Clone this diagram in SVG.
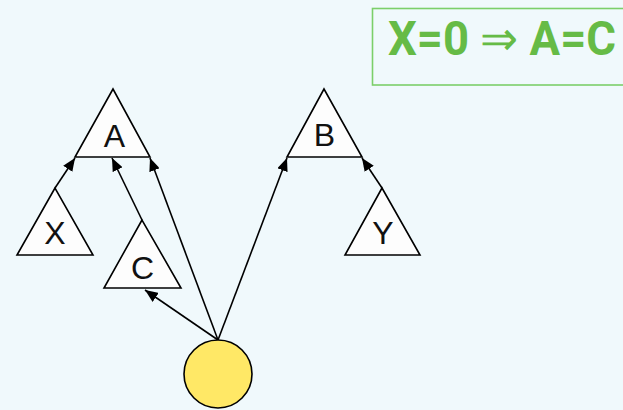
<svg xmlns="http://www.w3.org/2000/svg" width="623" height="410" viewBox="0 0 623 410">
<defs>
<marker id="ah" viewBox="0 0 13 11" refX="13" refY="5.5" markerWidth="13" markerHeight="11" markerUnits="userSpaceOnUse" orient="auto">
<path d="M0,0 L13,5.5 L0,11 z" fill="#000"/>
</marker>
</defs>
<style>
.tri{fill:#fdfdfd;stroke:#000;stroke-width:1.6;stroke-linejoin:miter}
.lbl{font-family:"Liberation Sans",Arial,sans-serif;font-size:32px;fill:#111;text-anchor:middle}
.edge{stroke:#000;stroke-width:1.6;fill:none;marker-end:url(#ah)}
</style>
<rect x="0" y="0" width="623" height="410" fill="#f0f9fc"/>
<g id="formula">
<rect x="372.5" y="8.5" width="270" height="76.5" fill="none" stroke="#7ccf6a" stroke-width="1.6"/>
<text x="388" y="55" font-family="Roboto,'Liberation Sans',sans-serif" font-weight="bold" font-size="48" fill="#66bb46" textLength="228" lengthAdjust="spacingAndGlyphs">X=0 <tspan font-weight="normal">⇒</tspan> A=C</text>
</g>
<g id="connectors">
<line class="edge" x1="55" y1="188" x2="75" y2="158"/>
<line class="edge" x1="142" y1="220" x2="112" y2="158"/>
<line class="edge" x1="218" y1="340" x2="150" y2="158"/>
<line class="edge" x1="218" y1="340" x2="145" y2="290"/>
<line class="edge" x1="218" y1="340" x2="287" y2="158"/>
<line class="edge" x1="382" y1="188" x2="362" y2="158"/>
</g>
<g id="nodeA">
<polygon class="tri" points="113,89 75,157 150,157"/>
<text class="lbl" x="114.5" y="146.5">A</text>
</g>
<g id="nodeX">
<polygon class="tri" points="55,188 17,255 93,255"/>
<text class="lbl" x="55" y="243.5">X</text>
</g>
<g id="nodeC">
<polygon class="tri" points="142,220 104,288 181,288"/>
<text class="lbl" x="142.5" y="278.5">C</text>
</g>
<g id="nodeB">
<polygon class="tri" points="324,89 287,157 362,157"/>
<text class="lbl" x="324.5" y="146">B</text>
</g>
<g id="nodeY">
<polygon class="tri" points="382,188 345,255 420,255"/>
<text class="lbl" x="383" y="244">Y</text>
</g>
<g id="root">
<circle cx="218" cy="374" r="34" fill="#ffe866" stroke="#000" stroke-width="1.6"/>
</g>
</svg>
